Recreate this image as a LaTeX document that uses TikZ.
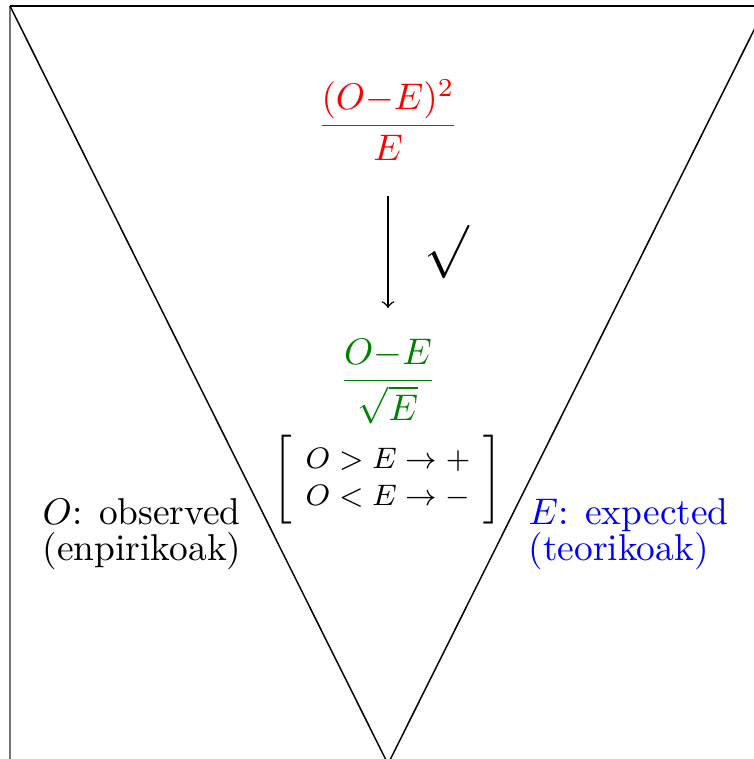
\documentclass[tikz,border=0pt]{standalone}
\usepackage{amsmath}
\definecolor{mygreen}{rgb}{0,0.5,0}
\begin{document}
\begin{tikzpicture}[x=0.27pt,y=-0.27pt,
  lbl/.style={inner sep=0pt, align=left, anchor=north west, font=\fontsize{10.1}{9.7}\selectfont},
  formula/.style={inner sep=0pt}]
\useasboundingbox (0,0) rectangle (754,759);
\clip (0,0) rectangle (754,759);
\coordinate (tl) at (10,6);
\coordinate (tr) at (766,6);
\coordinate (ap) at (388,764);
\coordinate (fr) at (760,6);
\coordinate (fb) at (10,765);
\draw[black!55, line width=0.6pt] (tl) -- (fb);
\draw[line width=0.5pt] (tl) -- (fr);
\draw (tl) -- (ap) -- (tr);
\node[formula, red, anchor=base] (chi) at (388,135) {$\dfrac{(O{-}E)^2}{E}$};
\node[formula, text=mygreen, anchor=base] (z) at (388,390) {$\dfrac{O{-}E}{\sqrt{E}}$};
\coordinate (a1) at (388,196);
\coordinate (a2) at (388,308);
\draw[->] (a1) -- (a2);
\node[formula, font=\Large] (sq) at (447,252) {$\surd$};
\node[formula, font=\fontsize{8.5}{10}\selectfont] (sign) at (388,480)
  {\setlength{\arraycolsep}{3.6pt}\delimitershortfall=-1.5pt
   $\left[\begin{array}{l} O>E\to+\\ O<E\to-\end{array}\right]$};
\node[lbl] (obs) at (42,498) {$O$: observed\\(enpirikoak)};
\node[lbl, blue] (exp) at (528,498) {$E$: expected\\(teorikoak)};
\end{tikzpicture}
\end{document}
